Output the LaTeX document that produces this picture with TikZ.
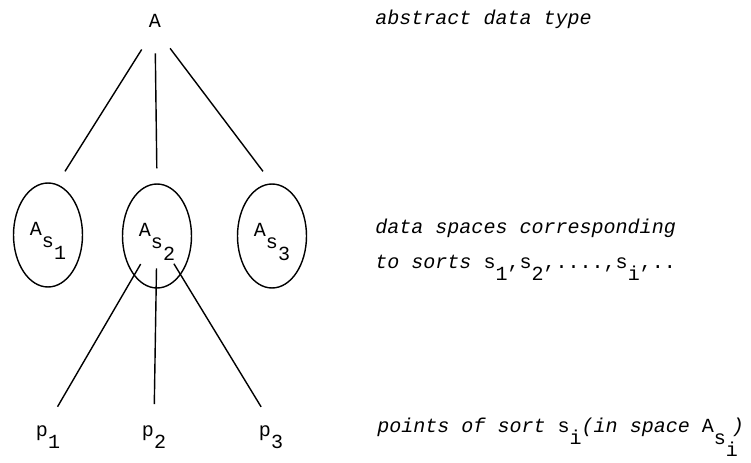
\documentclass[tikz,border=0pt]{standalone}
\usepackage{fontspec}
\setmainfont{Liberation Mono}
\usetikzlibrary{shapes.geometric}
\newcommand{\sublow}[1]{\raisebox{-0.6em}{#1}}
\newcommand{\diagsize}{\fontsize{11.4}{14}\selectfont}
\tikzset{
    % Node styles
    space/.style={
        ellipse,
        draw,
        line width=0.8pt,
        minimum width=1.38cm,
        minimum height=2.08cm,
        inner sep=0pt,
        text height=0.6em,
        text depth=0.6em
    },
    ptlabel/.style={
        anchor=base,
        inner sep=1pt
    },
    note/.style={
        anchor=base west,
        inner sep=0pt,
        font=\diagsize\itshape
    },
    % Line styles
    branch/.style={
        line width=0.8pt,
        shorten <=0.5cm,
        shorten >=0.3cm
    },
    twig/.style={
        line width=0.8pt,
        shorten <=0.65cm,
        shorten >=0.38cm
    }
}

\begin{document}
\begin{tikzpicture}[x=0.02cm, y=-0.02cm, font=\diagsize]
    \useasboundingbox (0,0) rectangle (751,463);

    \node[inner sep=0pt, anchor=base] (A) at (155,28) {A};

    \node[space] (s1) at (48,235) {A\sublow{s\sublow{1}}};
    \node[space] (s2) at (157,236) {A\sublow{s\sublow{2}}};
    \node[space] (s3) at (272,236) {A\sublow{s\sublow{3}}};

    \node[ptlabel] (p1) at (48,436) {p\sublow{1}};
    \node[ptlabel] (p2) at (154,436) {p\sublow{2}};
    \node[ptlabel] (p3) at (271,436) {p\sublow{3}};

    \node[note] (tA) at (375,25) {abstract data type};
    \node[note] (tS1) at (375,233) {data spaces corresponding};
    \node[note] (tS2) at (375,268) {to sorts {\upshape s\sublow{1},s\sublow{2},....,s\sublow{i},..}};
    \node[note] (tP) at (377,432) {points of sort {\upshape s\sublow{i}}(in space {\upshape A\sublow{s\sublow{i}}}\hspace{-0.3em})};

    \draw[branch] (A.south) -- (s1.80);
    \draw[branch] (A.south) -- (s2.north);
    \draw[branch] (A.south) -- (s3.north);

    \draw[twig] (s2.center) -- (p1.north);
    \draw[twig] (s2.center) -- (p2.north);
    \draw[twig] (s2.center) -- (p3.north);
\end{tikzpicture}
\end{document}
